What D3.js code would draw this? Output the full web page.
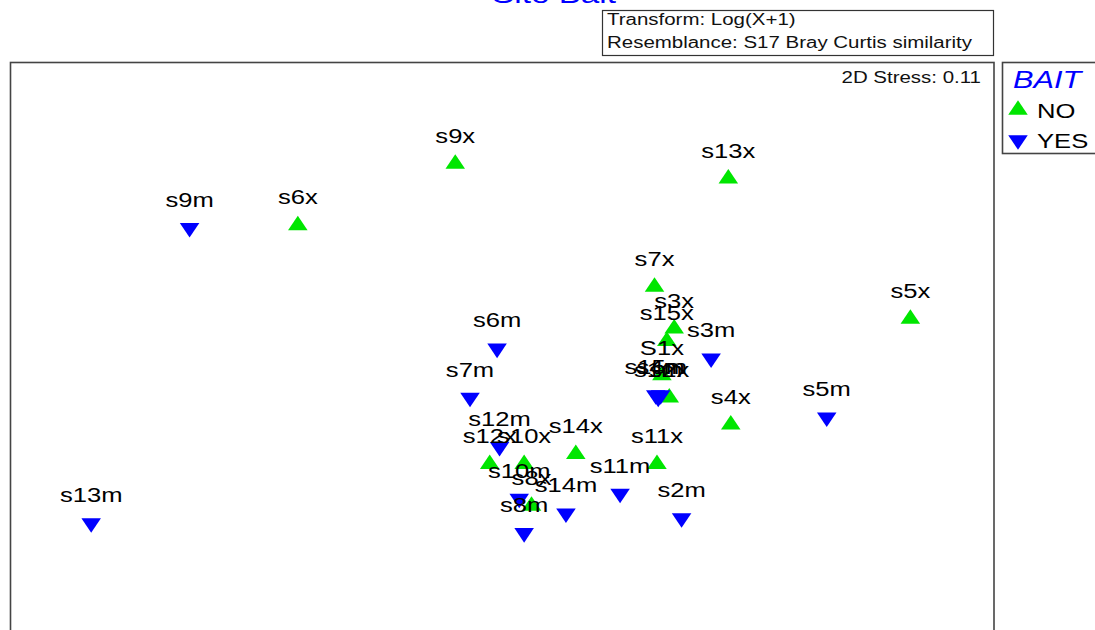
<!DOCTYPE html>
<html>
<head>
<meta charset="utf-8">
<script src="https://cdn.jsdelivr.net/npm/d3@7"></script>
<style>
  html, body { margin: 0; padding: 0; background: #fff; }
  svg { display: block; font-family: "Liberation Sans", Arial, sans-serif; }
</style>
</head>
<body>
<svg id="chart" width="1095" height="630"></svg>
<script>
// NMDS ordination of sites, with and without bait (MDS1, MDS2)
const sampleNames = [
  "s9x", "s13x", "s6x", "s7x", "s5x", "s3x", "s15x", "S1x", "s2x", "s4x",
  "s14x", "s11x", "s12x", "s10x", "s8x",
  "s9m", "s6m", "s3m", "s7m", "s5m", "s1m", "s4m", "s15m", "s12m",
  "s11m", "s10m", "s2m", "s14m", "s13m", "s8m"
];
const bait = [
  "NO", "NO", "NO", "NO", "NO", "NO", "NO", "NO", "NO", "NO",
  "NO", "NO", "NO", "NO", "NO",
  "YES", "YES", "YES", "YES", "YES", "YES", "YES", "YES", "YES",
  "YES", "YES", "YES", "YES", "YES", "YES"
];
const mds1 = [
  -0.19, 0.92, -0.83, 0.62, 1.66, 0.70, 0.67, 0.65, 0.68, 0.93,
  0.30, 0.63, -0.05, 0.09, 0.12,
  -1.27, -0.02, 0.85, -0.13, 1.32, 0.635, 0.645, 0.625, -0.01,
  0.48, 0.07, 0.73, 0.26, -1.67, 0.09
];
const mds2 = [
  0.74, 0.68, 0.49, 0.24, 0.11, 0.07, 0.02, -0.12, -0.21, -0.32,
  -0.44, -0.48, -0.48, -0.48, -0.65,
  0.48, -0.01, -0.05, -0.21, -0.29, -0.21, -0.20, -0.20, -0.41,
  -0.60, -0.62, -0.70, -0.68, -0.72, -0.76
];
const legendLevels = ["NO", "YES"];
const legendColors = ["#00e600", "#0000ff"];
const titleText = "Site Bait";
const infoLines = ["Transform: Log(X+1)", "Resemblance: S17 Bray Curtis similarity"];
const stressText = "2D Stress: 0.11";
const factorName = "BAIT";

const svg = d3.select("#chart");

// text is drawn slightly widened, like the exported plot
const WIDEN = 1.28;
function placeText(sel, px, py) {
  return sel.attr("x", 0).attr("y", 0)
    .attr("transform", (d, i) => {
      const xx = typeof px === "function" ? px(d, i) : px;
      const yy = typeof py === "function" ? py(d, i) : py;
      return `translate(${xx},${yy}) scale(${WIDEN},1)`;
    });
}

// equal-aspect scales for the ordination
const x = d3.scaleLinear().domain([-2, 2]).range([10, 994]);
const y = d3.scaleLinear().domain([-1.5, 1.5]).range([715, -23]);
const color = d3.scaleOrdinal().domain(legendLevels).range(legendColors);
const shape = d3.scaleOrdinal().domain(legendLevels).range([0, 180]);

const tri = d3.symbol().type(d3.symbolTriangle).size(150);

// title (sits partly above the page)
placeText(svg.append("text"), 554, 3)
  .attr("text-anchor", "middle")
  .attr("font-size", 26)
  .attr("fill", "#0000ff")
  .text(titleText);

// transform / resemblance box
svg.append("rect")
  .attr("x", 602.5).attr("y", 10.5)
  .attr("width", 391).attr("height", 45)
  .attr("fill", "#fff").attr("stroke", "#333").attr("stroke-width", 1.2);
placeText(svg.selectAll("text.info").data(infoLines).join("text"), 607, (d, i) => 25 + i * 23)
  .attr("class", "info")
  .attr("font-size", 16)
  .attr("fill", "#111")
  .text(d => d);

// plot frame
svg.append("rect")
  .attr("x", 10.5).attr("y", 62.5)
  .attr("width", 983.5).attr("height", 600)
  .attr("fill", "none").attr("stroke", "#444").attr("stroke-width", 1.6);

placeText(svg.append("text"), 981, 83)
  .attr("text-anchor", "end")
  .attr("font-size", 16)
  .attr("fill", "#111")
  .text(stressText);

const samples = sampleNames.map((n, i) => ({ name: n, bait: bait[i], x: mds1[i], y: mds2[i] }));

// symbols
svg.append("g").selectAll("path").data(samples).join("path")
  .attr("d", tri)
  .attr("transform", d => `translate(${x(d.x)},${y(d.y)}) rotate(${shape(d.bait)}) scale(1.05,0.9)`)
  .attr("fill", d => color(d.bait));

// sample labels above each symbol
placeText(svg.append("g").selectAll("text").data(samples).join("text"),
    d => x(d.x), d => y(d.y) - 21)
  .attr("text-anchor", "middle")
  .attr("font-size", 20)
  .attr("fill", "#000")
  .text(d => d.name);

// legend
const lg = svg.append("g");
lg.append("rect")
  .attr("x", 1002.5).attr("y", 62.5)
  .attr("width", 100).attr("height", 91)
  .attr("fill", "#fff").attr("stroke", "#444").attr("stroke-width", 1.6);
placeText(lg.append("text"), 1013, 88)
  .attr("font-size", 24)
  .attr("font-style", "italic")
  .attr("fill", "#0000ff")
  .text(factorName);
const items = lg.selectAll("g.item").data(legendLevels).join("g")
  .attr("class", "item")
  .attr("transform", (d, i) => `translate(0,${110 + i * 30})`);
items.append("path")
  .attr("d", tri)
  .attr("transform", d => `translate(1018,0) rotate(${shape(d)}) scale(1.05,0.9)`)
  .attr("fill", d => color(d));
placeText(items.append("text"), 1037, 8)
  .attr("font-size", 20)
  .attr("fill", "#000")
  .text(d => d);
</script>
</body>
</html>
